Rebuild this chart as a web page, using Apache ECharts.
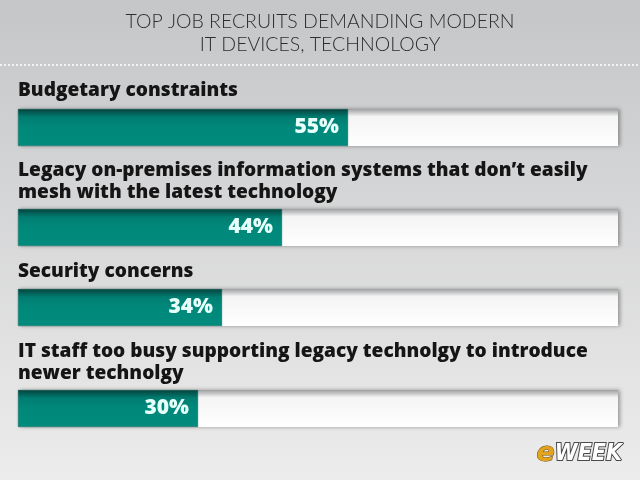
<!DOCTYPE html>
<html>
<head>
<meta charset="utf-8">
<script src="https://cdn.jsdelivr.net/npm/echarts@6/dist/echarts.min.js"></script>
<style>
  html, body { margin: 0; padding: 0; }
  #chart { width: 640px; height: 480px; }
</style>
</head>
<body>
<div id="chart"></div>
<script>
const titleLines = ["TOP JOB RECRUITS DEMANDING MODERN", "IT DEVICES, TECHNOLOGY"];
const categories = [
  "Budgetary constraints",
  "Legacy on-premises information systems that don\u2019t easily\nmesh with the latest technology",
  "Security concerns",
  "IT staff too busy supporting legacy technolgy to introduce\nnewer technolgy"
];
const values = [55, 44, 34, 30];

// layout of each row (label top, bar top)
const labelTops = [80, 160, 261, 341];
const barTops = [109, 209, 289, 390];

const chart = echarts.init(document.getElementById("chart"));

const teal = {
  type: "linear", x: 0, y: 0, x2: 0, y2: 1,
  colorStops: [
    { offset: 0, color: "#05423d" },
    { offset: 0.22, color: "#007d71" },
    { offset: 0.5, color: "#00897b" },
    { offset: 1, color: "#008b7d" },
  ],
};
const track = {
  type: "linear", x: 0, y: 0, x2: 0, y2: 1,
  colorStops: [
    { offset: 0, color: "#9d9fa1" },
    { offset: 0.2, color: "#f4f4f4" },
    { offset: 1, color: "#ffffff" },
  ],
};

const grids = [], xAxes = [], yAxes = [], series = [], titles = [];

titles.push({
  text: titleLines.join("\n"),
  left: "center",
  top: 10,
  padding: 0,
  textStyle: {
    fontFamily: "Lato",
    fontWeight: 300,
    fontSize: 19.5,
    lineHeight: 23,
    color: "#2c2e30",
  },
});

categories.forEach((cat, i) => {
  titles.push({
    text: cat,
    left: 18,
    top: labelTops[i],
    padding: 0,
    textStyle: {
      fontFamily: "Open Sans",
      fontWeight: 800,
      fontSize: 19.1,
      lineHeight: 22,
      color: "#151515",
    },
  });
  grids.push({ left: 18, width: 600, top: barTops[i], height: 37 });
  xAxes.push({ gridIndex: i, type: "value", min: 0, max: 100, show: false });
  yAxes.push({ gridIndex: i, type: "category", data: [cat], show: false });
  series.push({
    type: "bar",
    xAxisIndex: i,
    yAxisIndex: i,
    data: [values[i]],
    barWidth: 37,
    showBackground: true,
    backgroundStyle: {
      color: track,
      shadowColor: "rgba(0,0,0,0.35)",
      shadowBlur: 4,
      shadowOffsetX: 2,
    },
    itemStyle: { color: teal, borderColor: "#0a5a52", borderWidth: 0.5 },
    label: {
      show: true,
      position: "insideRight",
      distance: 9,
      formatter: "{c}%",
      fontFamily: "Open Sans",
      fontWeight: 800,
      fontSize: 21,
      color: "#e6fffb",
    },
    silent: true,
  });
});

chart.setOption({
  backgroundColor: {
    type: "linear", x: 0, y: 0, x2: 0, y2: 1,
    colorStops: [
      { offset: 0, color: "#c5c6c8" },
      { offset: 1, color: "#ececec" },
    ],
  },
  animation: false,
  title: titles,
  grid: grids,
  xAxis: xAxes,
  yAxis: yAxes,
  series: series,
  graphic: [
    {
      type: "line",
      shape: { x1: 0, y1: 65, x2: 640, y2: 65 },
      style: { stroke: "#f4f4f4", lineWidth: 2, lineDash: [2, 2] },
    },
    {
      type: "text",
      left: 536,
      top: 440,
      style: {
        text: "{e|e}{w|WEEK}",
        rich: {
          e: {
            fontFamily: "DejaVu Sans",
            fontStyle: "italic",
            fontWeight: "bold",
            fontSize: 27,
            fill: "#e3a41c",
            stroke: "#6b4a10",
            lineWidth: 1,
          },
          w: {
            fontFamily: "DejaVu Sans Condensed",
            fontStyle: "italic",
            fontWeight: "bold",
            fontSize: 23,
            fill: "#ffffff",
            stroke: "#4a4a4a",
            lineWidth: 2,
          },
        },
      },
    },
  ],
});
</script>
</body>
</html>
